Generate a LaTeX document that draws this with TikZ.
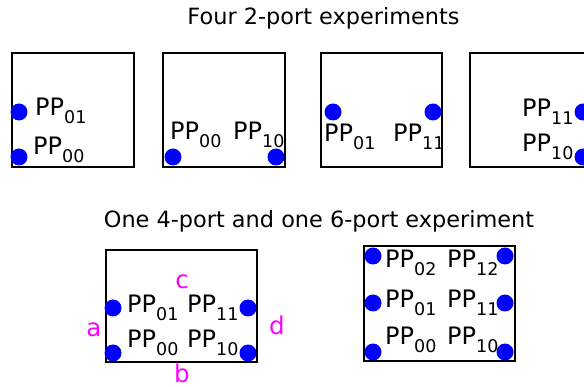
\documentclass[tikz,border=0pt]{standalone}
\usepackage{fontspec}
\setmainfont{DejaVu Sans}
\definecolor{portblue}{RGB}{0,0,255}
\definecolor{sidemag}{RGB}{255,0,255}
% port name with a lowered index
\newcommand{\pp}[1]{PP\raisebox{-0.33em}{\fontsize{17.5}{17.5}\selectfont #1}}
\tikzset{
  port/.style={circle,fill=portblue,inner sep=0pt,minimum size=17pt},
  lbl/.style={anchor=base west,inner sep=0pt,font=\fontsize{24}{24}\selectfont},
  side/.style={text=sidemag,inner sep=0pt,font=\fontsize{24.5}{24.5}\selectfont},
  heading/.style={anchor=base,inner sep=0pt,font=\fontsize{22.4}{22.4}\selectfont},
  frame/.style={draw,line width=2.3pt},
}
\begin{document}
\begin{tikzpicture}[x=1pt,y=-1pt]
  \clip (0,0) rectangle (584,387);
  \fill[white] (0,0) rectangle (584,387);

  % two-port experiments
  \node[heading] (top) at (323.5,25) {Four 2-port experiments};
  \draw[frame] (12,53) rectangle (134,167);
  \draw[frame] (163,53) rectangle (285,167);
  \draw[frame] (321,53) rectangle (442,167);
  \draw[frame] (470,53) rectangle (592,167);

  \node[port] (a1) at (19,112) {};
  \node[port] (a0) at (19,157) {};
  \node[lbl] (la1) at (35,116) {\pp{01}};
  \node[lbl] (la0) at (33,155) {\pp{00}};

  \node[port] (b0) at (173,157) {};
  \node[port] (b1) at (276,157) {};
  \node[lbl] (lb0) at (170,140) {\pp{00}};
  \node[lbl] (lb1) at (233,140) {\pp{10}};

  \node[port] (c0) at (333,112) {};
  \node[port] (c1) at (433,112) {};
  \node[lbl] (lc0) at (324,142) {\pp{01}};
  \node[lbl] (lc1) at (393,142) {\pp{11}};

  \node[port] (d1) at (583,112) {};
  \node[port] (d0) at (583,157) {};
  \node[lbl] (ld1) at (522,117) {\pp{11}};
  \node[lbl] (ld0) at (522,152) {\pp{10}};

  % four-port and six-port experiments
  \node[heading] (bottom) at (319,228) {One 4-port and one 6-port experiment};
  \draw[frame] (106,250) rectangle (257,362);
  \node[port] (e01) at (113,308) {};
  \node[port] (e00) at (113,353) {};
  \node[port] (e11) at (248,308) {};
  \node[port] (e10) at (248,353) {};
  \node[lbl] (le01) at (127,313) {\pp{01}};
  \node[lbl] (le11) at (187,313) {\pp{11}};
  \node[lbl] (le00) at (127,348) {\pp{00}};
  \node[lbl] (le10) at (187,348) {\pp{10}};
  \node[side] (sa) at (94,330) {a};
  \node[side] (sb) at (182,373) {b};
  \node[side] (sc) at (182,282) {c};
  \node[side] (sd) at (277,325) {d};

  \draw[frame] (364,246) rectangle (515,361);
  \node[port] (f02) at (373,256) {};
  \node[port] (f01) at (373,303) {};
  \node[port] (f00) at (373,352) {};
  \node[port] (f12) at (505,256) {};
  \node[port] (f11) at (505,303) {};
  \node[port] (f10) at (505,352) {};
  \node[lbl] (lf02) at (385,268) {\pp{02}};
  \node[lbl] (lf12) at (447,268) {\pp{12}};
  \node[lbl] (lf01) at (385,308) {\pp{01}};
  \node[lbl] (lf11) at (447,308) {\pp{11}};
  \node[lbl] (lf00) at (385,345) {\pp{00}};
  \node[lbl] (lf10) at (447,345) {\pp{10}};
\end{tikzpicture}
\end{document}
